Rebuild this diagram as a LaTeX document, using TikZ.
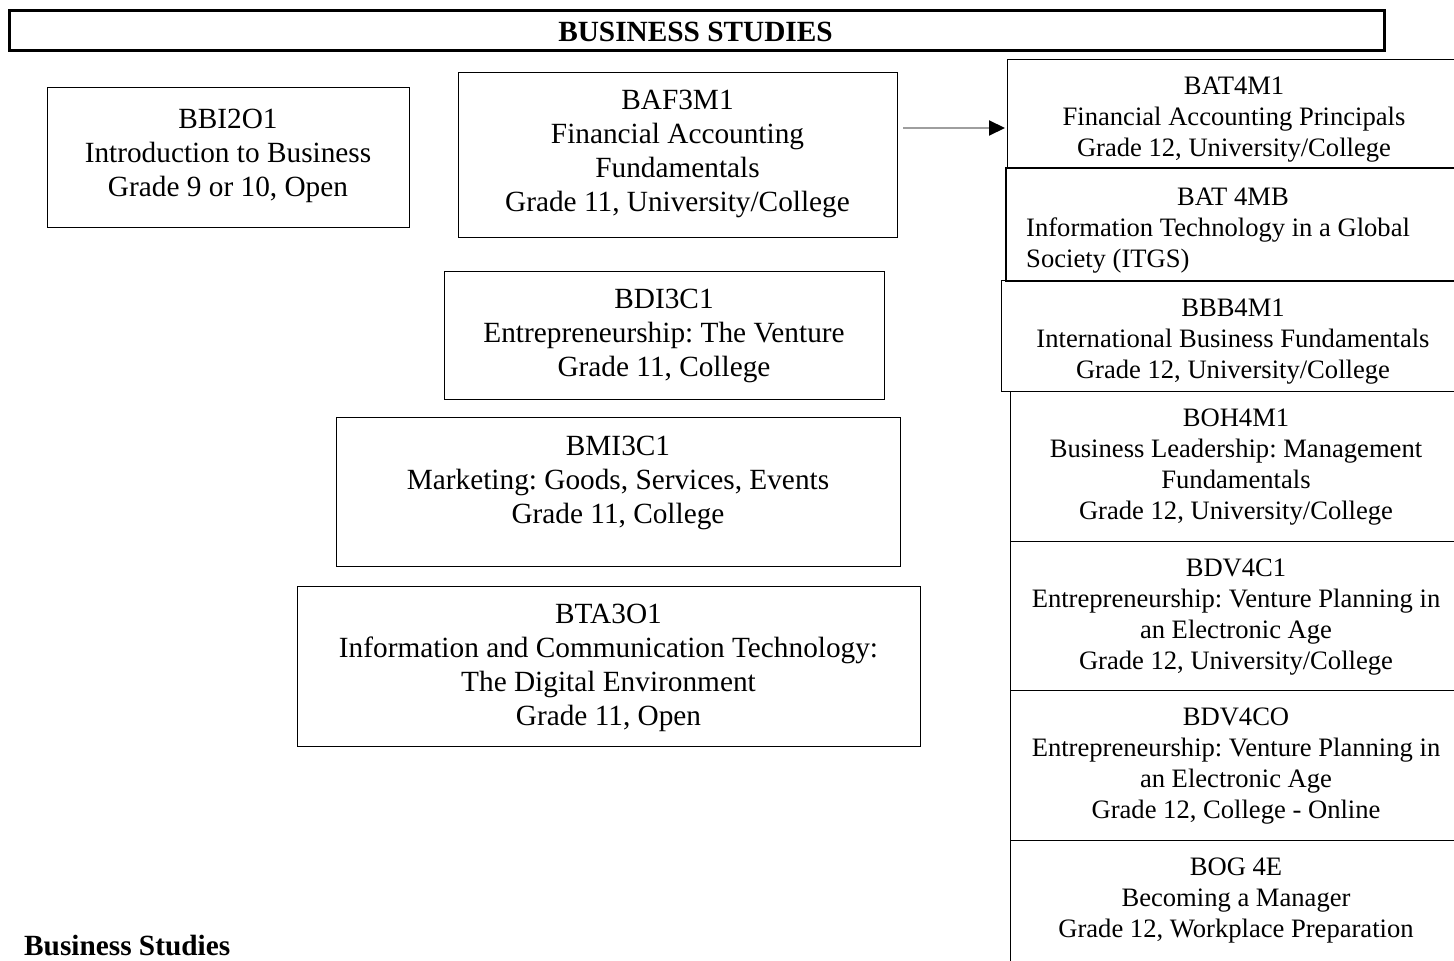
\documentclass[tikz,border=0pt]{standalone}
\usepackage{fontspec}
\setmainfont{Liberation Serif}
\usetikzlibrary{arrows.meta}
\frenchspacing
\newcommand\lstrut{\rule{0pt}{25pt}}
\newcommand\rstrut{\rule{0pt}{23pt}}
\tikzset{
  box/.style={draw=black, line width=1.2pt, rectangle, inner sep=0pt, anchor=north west},
  ltxt/.style={inner sep=0pt, anchor=north, align=center, font=\fontsize{29.3}{34}\selectfont},
  rtxt/.style={inner sep=0pt, anchor=north, align=center, font=\fontsize{26.6}{31}\selectfont},
  rltxt/.style={inner sep=0pt, anchor=north west, align=left, font=\fontsize{26.6}{31}\selectfont},
  btxt/.style={inner sep=0pt, font=\fontsize{29.3}{34}\selectfont\bfseries},
  arr/.style={draw=black!38, line width=2pt, -{Triangle[length=16pt,width=15pt,color=black]}}
}
\begin{document}
\begin{tikzpicture}[x=1pt,y=-1pt]
\path[use as bounding box] (0,0) rectangle (1454,961);
\clip (0,0) rectangle (1454,961);
% title
\node[box, line width=2.6pt, minimum width=1375pt, minimum height=40pt] (title) at (8,9) {};
\node[btxt, anchor=base] at (695.5,41) {BUSINESS STUDIES};
% left column boxes
\node[box, minimum width=362pt, minimum height=140pt] (bbi) at (47,87) {};
\node[ltxt] at (228,103) {\lstrut BBI2O1\\Introduction to Business\\Grade 9 or 10, Open};
\node[box, minimum width=439pt, minimum height=165pt] (baf) at (458,71.5) {};
\node[ltxt] at (677.5,84) {\lstrut BAF3M1\\Financial Accounting\\Fundamentals\\Grade 11, University/College};
\node[box, minimum width=440pt, minimum height=128pt] (bdi) at (444,270.5) {};
\node[ltxt] at (664,283) {\lstrut BDI3C1\\Entrepreneurship: The Venture\\Grade 11, College};
\node[box, minimum width=564pt, minimum height=149pt] (bmi) at (336,416.5) {};
\node[ltxt] at (618,430) {\lstrut BMI3C1\\Marketing: Goods, Services, Events\\Grade 11, College};
\node[box, minimum width=623pt, minimum height=160pt] (bta) at (297,585.5) {};
\node[ltxt] at (608.5,598) {\lstrut BTA3O1\\Information and Communication Technology:\\The Digital Environment\\Grade 11, Open};
% right column boxes
\node[box, minimum width=460pt, minimum height=108pt] (bat) at (1007,59) {};
\node[rtxt] at (1234,71) {\rstrut BAT4M1\\Financial Accounting Principals\\Grade 12, University/College};
\node[box, line width=2pt, minimum width=460pt, minimum height=113pt] (batmb) at (1005,167) {};
\node[rtxt] at (1233,182) {\rstrut BAT 4MB};
\node[rltxt] at (1026,213) {\rstrut Information Technology in a Global\\Society (ITGS)};
\node[box, minimum width=460pt, minimum height=111pt] (bbb) at (1001,280) {};
\node[rtxt] at (1233,293) {\rstrut BBB4M1\\International Business Fundamentals\\Grade 12, University/College};
\node[box, minimum width=460pt, minimum height=150pt] (boh) at (1010,391) {};
\node[rtxt] at (1236,403) {\rstrut BOH4M1\\Business Leadership: Management\\Fundamentals\\Grade 12, University/College};
\node[box, minimum width=460pt, minimum height=149pt] (bdvc) at (1010,541) {};
\node[rtxt] at (1236,553) {\rstrut BDV4C1\\Entrepreneurship: Venture Planning in\\an Electronic Age\\Grade 12, University/College};
\node[box, minimum width=460pt, minimum height=150pt] (bdvo) at (1010,690) {};
\node[rtxt] at (1236,702) {\rstrut BDV4CO\\Entrepreneurship: Venture Planning in\\an Electronic Age\\Grade 12, College - Online};
\node[box, minimum width=460pt, minimum height=150pt] (bog) at (1010,840) {};
\node[rtxt] at (1236,852) {\rstrut BOG 4E\\Becoming a Manager\\Grade 12, Workplace Preparation};
% connector
\coordinate (ay) at (0,128);
\draw[arr, shorten <=5pt, shorten >=2pt] (baf.east |- ay) -- (bat.west |- ay);
% footer
\node[btxt, anchor=base west] (foot) at (24,955) {Business Studies};
\end{tikzpicture}
\end{document}
